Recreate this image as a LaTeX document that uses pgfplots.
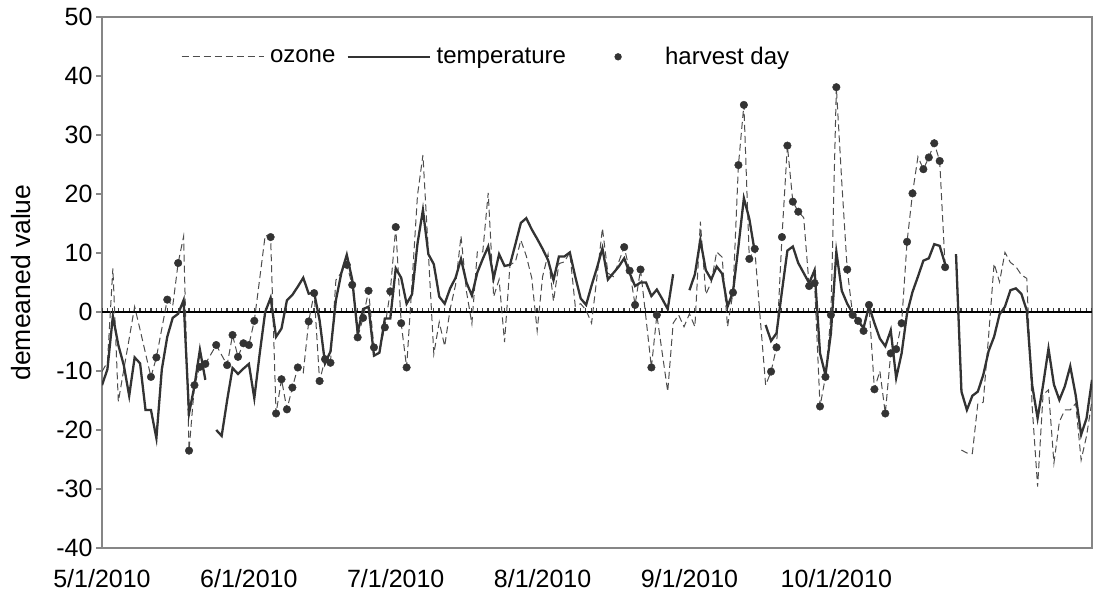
\documentclass[border=0pt]{standalone}
\usepackage{pgfplots}
\pgfplotsset{compat=1.18}
\usepackage{pgfplotstable}
\usepackage{fontspec}
\setmainfont{Liberation Sans}
\definecolor{tempc}{HTML}{333333}
\definecolor{ozc}{HTML}{4D4D4D}
\definecolor{framec}{HTML}{868686}
\pgfplotstableread{
x temp ozone
0 -12.4 -10.1
1 -9.7 -8.5
2 -0.7 7.4
3 -5.6 -15.2
4 -9.0 -9.8
5 -14.2 -4.5
6 -7.7 0.9
7 -8.7 -3.0
8 -16.6 -7.0
9 -16.6 -11.0
10 -21.4 -7.7
11 -9.7 -2.8
12 -4.2 2.1
13 -1.0 1.0
14 -0.3 8.3
15 2.0 12.8
16 -17.2 -23.5
17 -12.5 -12.4
18 -6.4 -9.3
19 -11.5 -8.8
20 nan -7.2
21 -20.0 -5.6
22 -21.0 -7.3
23 -15.0 -9.0
24 -9.5 -3.9
25 -10.5 -7.6
26 -9.6 -5.3
27 -8.8 -5.6
28 -14.6 -1.5
29 -7.0 5.7
30 0.0 13.0
31 2.4 12.7
32 -4.2 -17.2
33 -2.8 -11.4
34 2.0 -16.5
35 2.9 -12.8
36 4.3 -9.4
37 5.8 -10.3
38 3.1 -1.6
39 3.3 3.2
40 -1.4 -11.7
41 -8.7 -8.0
42 -6.7 -8.6
43 2.0 5.4
44 6.6 6.7
45 9.7 8.0
46 5.5 4.6
47 -3.5 -4.3
48 0.5 -1.0
49 0.9 3.6
50 -7.4 -6.0
51 -6.9 -6.5
52 -1.1 -2.6
53 -1.1 3.5
54 7.4 14.4
55 5.8 -1.9
56 1.4 -9.4
57 3.0 5.0
58 11.6 19.8
59 17.3 26.6
60 9.8 10.0
61 8.1 -7.1
62 2.6 -1.7
63 1.4 -5.8
64 4.0 0.5
65 5.8 4.6
66 9.0 12.9
67 5.0 3.5
68 2.8 -2.0
69 6.7 10.2
70 9.0 10.2
71 11.1 20.2
72 5.7 2.6
73 9.8 5.5
74 7.8 -5.1
75 8.0 8.0
76 11.5 8.5
77 15.1 12.2
78 15.9 9.5
79 14.0 5.8
80 12.4 -3.2
81 10.7 6.0
82 8.8 9.8
83 5.4 1.8
84 9.4 8.2
85 9.4 8.5
86 10.1 10.1
87 6.0 1.0
88 2.3 1.4
89 1.2 0.3
90 4.5 -1.9
91 7.5 6.0
92 10.8 14.2
93 5.5 6.6
94 6.6 6.0
95 7.7 8.5
96 9.1 11.0
97 6.6 7.0
98 4.4 1.2
99 5.0 7.2
100 5.0 -1.0
101 2.7 -9.4
102 3.8 -0.5
103 2.2 -7.0
104 0.5 -13.5
105 6.4 -1.9
106 nan -0.5
107 nan -2.5
108 3.7 -0.3
109 6.4 -2.5
110 12.2 15.3
111 7.1 3.0
112 5.5 5.0
113 7.7 10.2
114 6.5 9.3
115 0.9 -2.5
116 3.4 3.3
117 11.1 24.9
118 19.3 35.1
119 15.8 9.0
120 10.2 10.7
121 nan -1.0
122 -2.2 -12.4
123 -4.9 -10.1
124 -3.6 -6.0
125 3.5 12.7
126 10.4 28.2
127 11.1 18.7
128 8.3 17.0
129 6.6 16.0
130 4.9 4.4
131 7.1 4.9
132 -7.0 -16.0
133 -10.7 -11.0
134 -3.6 -0.5
135 10.2 38.1
136 3.6 22.0
137 1.4 7.2
138 -0.2 -0.5
139 -1.5 -1.5
140 -2.7 -3.2
141 1.0 1.2
142 -1.9 -13.1
143 -4.5 -10.0
144 -5.8 -17.2
145 -3.1 -7.0
146 -11.2 -6.3
147 -7.0 -1.9
148 -0.2 11.9
149 3.4 20.1
150 6.0 26.3
151 8.7 24.2
152 9.1 26.2
153 11.5 28.6
154 11.2 25.6
155 8.1 7.6
156 nan nan
157 9.8 nan
158 -13.5 -23.4
159 -16.6 -23.9
160 -14.2 -24.0
161 -13.5 -15.6
162 -10.7 -15.3
163 -6.6 -4.0
164 -4.2 8.2
165 -0.4 5.1
166 0.9 10.1
167 3.7 8.4
168 4.0 7.7
169 3.1 6.3
170 0.3 5.7
171 -12.4 -16.0
172 -18.0 -29.6
173 -12.4 -14.0
174 -6.2 -13.2
175 -12.3 -25.6
176 -14.9 -18.6
177 -12.6 -16.6
178 -9.2 -16.6
179 -14.1 -15.5
180 -20.8 -25.1
181 -18.0 -21.0
182 -11.5 -15.0
}\datatab
\pgfplotstableread{
x h
9 -11.0
10 -7.7
12 2.1
14 8.3
16 -23.5
17 -12.4
18 -9.3
19 -8.8
21 -5.6
23 -9.0
24 -3.9
25 -7.6
26 -5.3
27 -5.6
28 -1.5
31 12.7
32 -17.2
33 -11.4
34 -16.5
35 -12.8
36 -9.4
38 -1.6
39 3.2
40 -11.7
41 -8.0
42 -8.6
45 8.0
46 4.6
47 -4.3
48 -1.0
49 3.6
50 -6.0
52 -2.6
53 3.5
54 14.4
55 -1.9
56 -9.4
96 11.0
97 7.0
98 1.2
99 7.2
101 -9.4
102 -0.5
116 3.3
117 24.9
118 35.1
119 9.0
120 10.7
123 -10.1
124 -6.0
125 12.7
126 28.2
127 18.7
128 17.0
130 4.4
131 4.9
132 -16.0
133 -11.0
134 -0.5
135 38.1
137 7.2
138 -0.5
139 -1.5
140 -3.2
141 1.2
142 -13.1
144 -17.2
145 -7.0
146 -6.3
147 -1.9
148 11.9
149 20.1
151 24.2
152 26.2
153 28.6
154 25.6
155 7.6
}\harvtab
\begin{document}
\begin{tikzpicture}
\path[use as bounding box] (0pt,0pt) rectangle (1105pt,597pt);
\begin{axis}[
  at={(102pt,49pt)}, anchor=south west,
  scale only axis, width=990pt, height=531pt,
  xmin=0, xmax=182, ymin=-40, ymax=50,
  ytick={-40,-30,-20,-10,0,10,20,30,40,50},
  xtick={0,27,54,81,108,135},
  xticklabels={5/1/2010,6/1/2010,7/1/2010,8/1/2010,9/1/2010,10/1/2010},
  /pgf/number format/assume math mode=true,
  tick label style={font=\fontsize{25}{30}\selectfont},
  label style={font=\fontsize{26.5}{31}\selectfont},
  axis line style={draw=framec, line width=1.2pt},
  ytick pos=left,
  ytick style={draw=framec, line width=1.2pt},
  tick align=outside,
  major tick length=6pt,
  xtick style={draw=none},
  xticklabel style={anchor=base, yshift=-33pt},
  yticklabel style={anchor=east},
  ylabel={demeaned value},
  ylabel style={at={(axis description cs:-0.082,0.5)}, anchor=center},
  legend columns=3,
  legend cell align=left,
  legend style={draw=none, fill=none, at={(0.0798,0.925)}, anchor=west,
    inner sep=0pt, outer sep=0pt, font=\fontsize{24}{29}\selectfont,
    nodes={inner sep=1pt},
    /tikz/every odd column/.style={column sep=5pt},
    /tikz/every even column/.style={column sep=10pt}},
  legend image code/.code={\draw[#1] (0pt,0pt) -- (82pt,0pt);},
]
\draw[black, line width=1.4pt] (axis cs:0,0) -- (axis cs:182,0);
\draw[black!75, line width=3.5pt, dash pattern=on 1.2pt off 4.237pt]
  ([xshift=-0.6pt,yshift=2.4pt]axis cs:0,0) -- ([yshift=2.4pt]axis cs:182,0);
\addplot[draw=ozc, line width=1pt, dash pattern=on 7pt off 4pt, unbounded coords=jump]
  table[x=x, y=ozone]{\datatab};
\addlegendentry{ozone}
\addplot[draw=tempc, line width=2.3pt, unbounded coords=jump]
  table[x=x, y=temp]{\datatab};
\addlegendentry{temperature}
\addplot[only marks, mark=*, mark size=3.8pt, mark options={fill=tempc, draw=tempc},
  legend image code/.code={\path[draw=none,fill=none] (0pt,-0.1pt) rectangle (82pt,0.1pt); \fill[tempc] (41pt,0pt) circle (3.4pt);}]
  table[x=x, y=h]{\harvtab};
\addlegendentry{harvest day}
\end{axis}
\end{tikzpicture}
\end{document}
